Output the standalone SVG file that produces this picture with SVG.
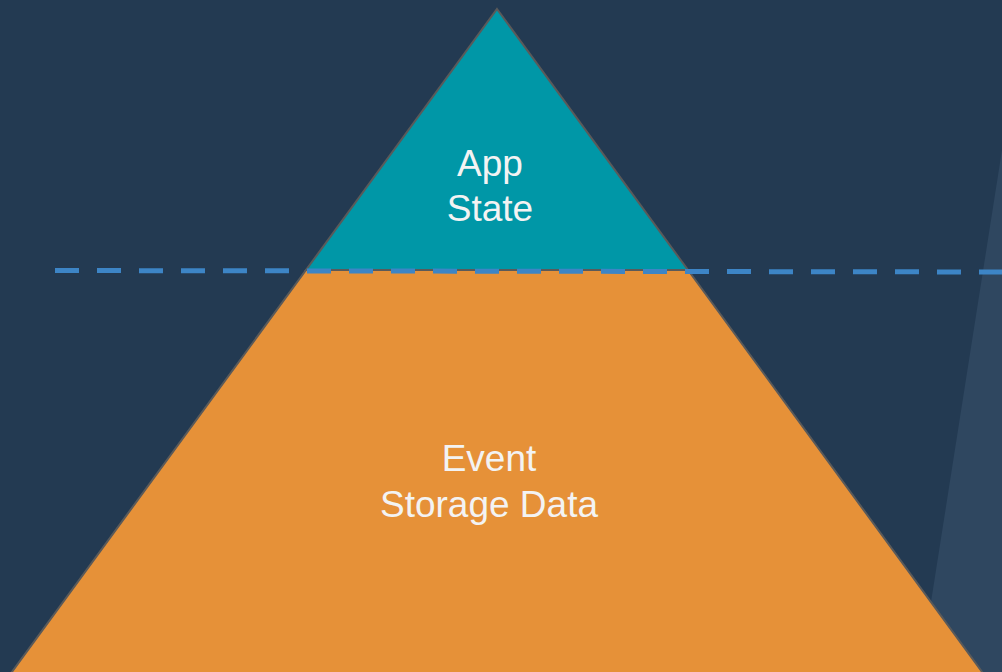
<svg xmlns="http://www.w3.org/2000/svg" width="1002" height="672" viewBox="0 0 1002 672">
  <style>
    .tier { stroke: #5a5a5a; stroke-width: 2; stroke-linejoin: miter; }
    .label { font-family: "Liberation Sans", Arial, sans-serif; font-size: 37px; fill: #f3f3f3; text-anchor: middle; }
    .divider { fill: none; stroke: #3d85c6; stroke-width: 5; stroke-dasharray: 24 18; }
  </style>
  <!-- backdrop -->
  <rect x="0" y="0" width="1002" height="672" fill="#233a52"/>
  <polygon points="1002,150 920,672 1002,672" fill="#2f4760"/>

  <!-- lower tier of the pyramid -->
  <g id="event-storage-data">
    <polygon class="tier" points="306,270 688,270 988,680 6,680" fill="#e69138"/>
    <text class="label" x="489" y="471">Event</text>
    <text class="label" x="489" y="517">Storage Data</text>
  </g>

  <!-- upper tier of the pyramid -->
  <g id="app-state">
    <polygon class="tier" points="497,9 688,270 306,270" fill="#0097a7"/>
    <text class="label" x="490" y="176">App</text>
    <text class="label" x="490" y="221">State</text>
  </g>

  <!-- dashed waterline -->
  <g id="connectors">
    <path class="divider" d="M55 270.5 L1002 272"/>
  </g>
</svg>
